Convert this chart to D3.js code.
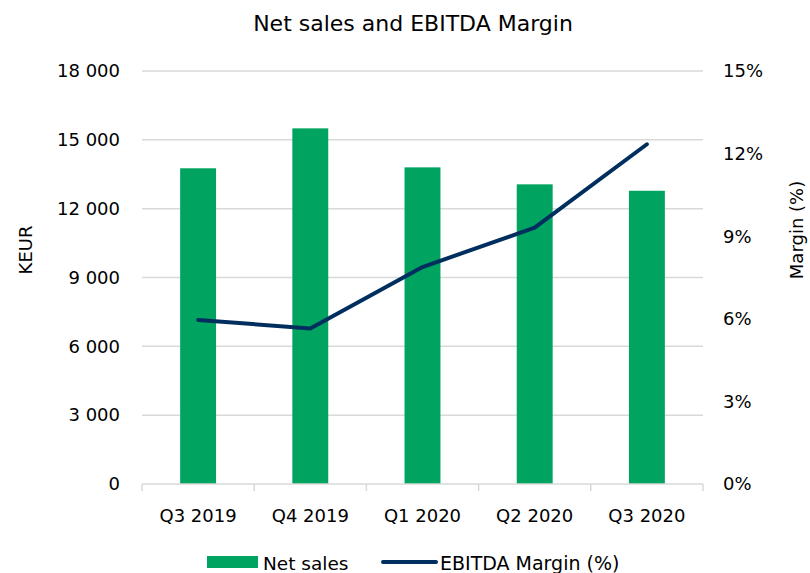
<!DOCTYPE html>
<html><head><meta charset="utf-8">
<script src="https://cdn.jsdelivr.net/npm/d3@7"></script>
<style>body{margin:0;background:#fff;} text{font-family:"DejaVu Sans",sans-serif;fill:#000;}</style>
</head><body>
<svg id="c" width="810" height="573"></svg>
<script>
const categories = ["Q3 2019","Q4 2019","Q1 2020","Q2 2020","Q3 2020"];
const netSales = [13760, 15500, 13800, 13060, 12780];
const ebitdaMargin = [5.96, 5.65, 7.88, 9.31, 12.34];
const leftTicks = [0,3000,6000,9000,12000,15000,18000];
const rightTicks = [0,3,6,9,12,15];

const svg = d3.select("#c");
const m = {l:142, r:703, t:71, b:484};
const x = d3.scaleBand().domain(categories).range([m.l, m.r]).paddingInner(0.68).paddingOuter(0.34);
const xb = d3.scaleBand().domain(categories).range([m.l, m.r]);
const yL = d3.scaleLinear().domain([0,18000]).range([m.b, m.t]);
const yR = d3.scaleLinear().domain([0,15]).range([m.b, m.t]);

// gridlines
svg.append("g").selectAll("line").data(leftTicks.filter(d=>d>0)).join("line")
  .attr("x1", m.l).attr("x2", m.r).attr("y1", d=>yL(d)).attr("y2", d=>yL(d))
  .attr("stroke", "#d9d9d9").attr("stroke-width", 1.5);

// bars
svg.append("g").selectAll("rect").data(categories).join("rect")
  .attr("x", d=>x(d)).attr("width", x.bandwidth())
  .attr("y", (d,i)=>yL(netSales[i])).attr("height", (d,i)=>m.b - yL(netSales[i]))
  .attr("fill", "#00a35f");

// x axis
const xa = svg.append("g");
xa.append("line").attr("x1", m.l).attr("x2", m.r).attr("y1", m.b).attr("y2", m.b).attr("stroke", "#d9d9d9").attr("stroke-width", 1.5);
const bounds = categories.map(d=>xb(d)).concat([m.r]);
xa.selectAll("line.t").data(bounds).join("line").attr("class","t")
  .attr("x1", d=>d).attr("x2", d=>d).attr("y1", m.b).attr("y2", m.b+7)
  .attr("stroke", "#d9d9d9").attr("stroke-width", 1.5);
xa.selectAll("text").data(categories).join("text")
  .attr("x", d=>xb(d)+xb.bandwidth()/2).attr("y", 522)
  .attr("text-anchor","middle").attr("font-size", 18).text(d=>d);

// left axis labels
const fmt = d => d3.format(",")(d).replace(/,/g, " ");
svg.append("g").selectAll("text").data(leftTicks).join("text")
  .attr("x", 120).attr("y", d=>yL(d)).attr("dy","0.35em")
  .attr("text-anchor","end").attr("font-size", 18).text(fmt);
// right axis labels
svg.append("g").selectAll("text").data(rightTicks).join("text")
  .attr("x", 723).attr("y", d=>yR(d)).attr("dy","0.35em")
  .attr("text-anchor","start").attr("font-size", 18).text(d=>d+"%");

// line
const line = d3.line().x((d,i)=>xb(categories[i])+xb.bandwidth()/2).y(d=>yR(d));
svg.append("path").datum(ebitdaMargin).attr("d", line)
  .attr("fill","none").attr("stroke","#002f5f").attr("stroke-width",4)
  .attr("stroke-linecap","round").attr("stroke-linejoin","round");

// titles
svg.append("text").attr("x", 413).attr("y", 31).attr("text-anchor","middle").attr("font-size", 22).text("Net sales and EBITDA Margin");
svg.append("text").attr("transform","translate(32,250) rotate(-90)").attr("text-anchor","middle").attr("font-size",18).text("KEUR");
svg.append("text").attr("transform","translate(803,230) rotate(-90)").attr("text-anchor","middle").attr("font-size",18).text("Margin (%)");

// legend
const lg = svg.append("g");
lg.append("rect").attr("x",207).attr("y",556).attr("width",51).attr("height",12).attr("fill","#00a35f");
lg.append("text").attr("x",263).attr("y",570).attr("font-size",18.5).text("Net sales");
lg.append("line").attr("x1",383).attr("x2",436).attr("y1",562).attr("y2",562).attr("stroke","#002f5f").attr("stroke-width",4).attr("stroke-linecap","round");
lg.append("text").attr("x",440).attr("y",570).attr("font-size",19).text("EBITDA Margin (%)");
</script>
</body></html>
